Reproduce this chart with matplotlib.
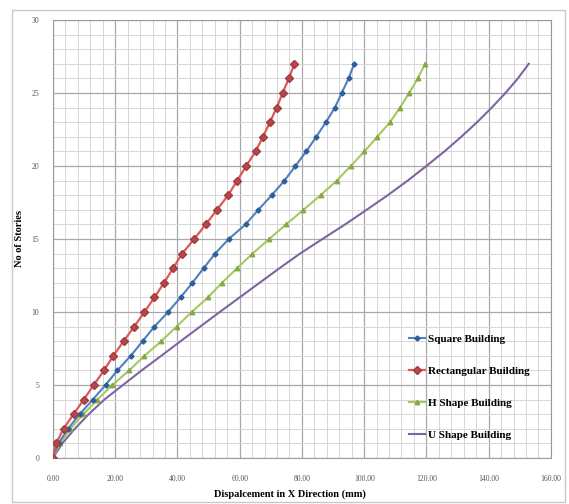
import matplotlib.pyplot as plt
from matplotlib.patches import Rectangle

plt.rcParams['font.family'] = ['Liberation Serif', 'DejaVu Serif']

storeys = list(range(28))

square = [0, 1.8, 4.8, 8.6, 12.8, 16.9, 20.7, 25.0, 28.8, 32.6, 37.0, 41.0, 44.8, 48.4,
          52.1, 56.5, 61.9, 66.0, 70.3, 74.4, 77.9, 81.4, 84.6, 87.7, 90.6, 92.8, 95.0, 96.8]
rectangular = [0, 1.0, 3.4, 6.6, 9.9, 13.1, 16.4, 19.4, 22.7, 26.1, 29.4, 32.6, 35.7, 38.6,
               41.5, 45.4, 49.1, 52.7, 56.3, 59.2, 62.1, 65.1, 67.5, 69.7, 71.9, 73.8, 75.8, 77.6]
h_shape = [0, 2.2, 5.6, 9.8, 14.3, 19.1, 24.5, 29.4, 34.8, 39.7, 44.6, 49.8, 54.3, 59.2,
           64.1, 69.5, 74.9, 80.5, 86.0, 91.2, 95.7, 100.1, 104.2, 108.3, 111.5, 114.5, 117.2, 119.6]
u_shape = [0, 3.0, 7.0, 11.5, 16.5, 22.5, 28.5, 34.8, 41.0, 47.3, 53.6, 60.0, 66.4, 72.8,
           79.4, 86.6, 93.9, 100.8, 107.6, 114.0, 120.0, 125.8, 131.2, 136.3, 141.0, 145.4, 149.4, 152.9]

labels = ['Square Building', 'Rectangular Building', 'H Shape Building', 'U Shape Building']
x_ticks = [0, 20, 40, 60, 80, 100, 120, 140, 160]
y_ticks = [0, 5, 10, 15, 20, 25, 30]

fig = plt.figure(figsize=(5.69, 5.04), dpi=100)
ax = fig.add_axes([0.0931, 0.0913, 0.875, 0.869])

# outer chart border
fig.patches.append(Rectangle((12 / 569, 2 / 504), 553 / 569, 492 / 504, transform=fig.transFigure,
                             fill=False, edgecolor='#c8c8c8', linewidth=1.0))

ax.plot(square, storeys, color='#4F81BD', linewidth=1.5, marker='D', markersize=2.6,
        markerfacecolor='#2f5f9a', markeredgecolor='#2f5f9a', label=labels[0], zorder=4)
ax.plot(rectangular, storeys, color='#E0575A', linewidth=1.6, marker='D', markersize=4.2,
        markerfacecolor='#B8474A', markeredgecolor='#A03C3F', label=labels[1], zorder=5)
ax.plot(h_shape, storeys, color='#A6C95F', linewidth=1.5, marker='^', markersize=3.2,
        markerfacecolor='#86a845', markeredgecolor='#86a845', label=labels[2], zorder=3)
ax.plot(u_shape, storeys, color='#8064A2', linewidth=1.5, label=labels[3], zorder=2)

ax.set_xlim(0, 160)
ax.set_ylim(0, 30)
ax.set_xticks(x_ticks)
ax.set_xticklabels(['%.2f' % v for v in x_ticks])
ax.set_yticks(y_ticks)
ax.set_xticks(range(0, 161, 4), minor=True)
ax.set_yticks(range(0, 31), minor=True)
ax.grid(True, which='major', color='#a8a8a8', linewidth=0.9)
ax.grid(True, which='minor', color='#d6d6d6', linewidth=0.7)
ax.set_axisbelow(True)
ax.tick_params(which='both', length=0)
ax.tick_params(axis='x', labelsize=5.5, labelcolor='#555555', pad=12)
ax.tick_params(axis='y', labelsize=5.5, labelcolor='#555555', pad=10)
for s in ax.spines.values():
    s.set_color('#9a9a9a')

ax.set_xlabel('Dispalcement in X Direction (mm)', fontsize=7.5, fontweight='bold')
ax.xaxis.set_label_coords(0.475, -0.072)
ax.set_ylabel('No of Stories', fontsize=7.5, fontweight='bold')
ax.yaxis.set_label_coords(-0.058, 0.5)

leg = ax.legend(loc='upper left', bbox_to_anchor=(0.695, 0.305), frameon=False,
                handlelength=1.4, handletextpad=0.3, labelspacing=2.0,
                prop={'weight': 'bold', 'size': 8})

fig.savefig('out.png', dpi=100)
